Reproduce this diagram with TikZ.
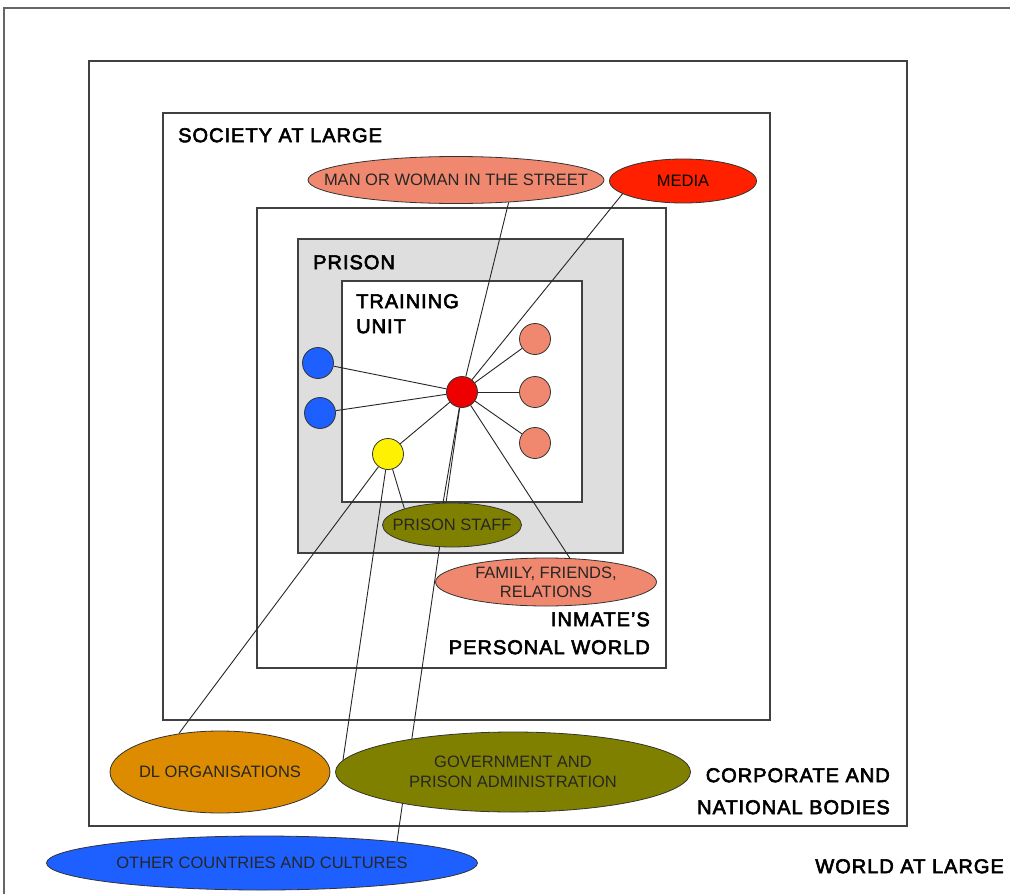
\documentclass[tikz,border=0pt]{standalone}
\usepackage{fontspec}
\setmainfont{Liberation Sans}
\newfontfamily\headfont[LetterSpace=5, FakeBold=3]{Liberation Sans}
\usetikzlibrary{shapes.geometric}

\definecolor{salmon}{RGB}{240,136,112}
\definecolor{mediared}{RGB}{255,32,0}
\definecolor{hubred}{RGB}{238,0,0}
\definecolor{inkblue}{RGB}{30,96,255}
\definecolor{staffolive}{RGB}{128,128,0}
\definecolor{amber}{RGB}{221,140,0}
\definecolor{prisongray}{RGB}{222,222,222}

\pgfdeclarelayer{edges}
\pgfsetlayers{edges,main}

\begin{document}
\begin{tikzpicture}[
        x=1pt, y=-1pt,
        frame/.style={draw=black!75, line width=1.1pt},
        heading/.style={inner sep=0pt, align=left, font=\headfont\fontsize{20}{24}\selectfont},
        oval/.style={draw=black!80, ellipse, inner sep=0pt, line width=0.8pt},
        blob/.style={draw=black!80, circle, minimum size=31pt, inner sep=0pt, line width=0.8pt},
        link/.style={draw=black!85, line width=0.9pt},
        caption/.style={inner sep=0pt, align=center, text=black!85, font=\fontsize{16.5}{19}\selectfont},
    ]
        \useasboundingbox (0,0) rectangle (1010,894);

        % nested worlds
        \begin{pgfonlayer}{edges}
            \draw[frame, draw=black!60] (4,894) -- (4,8) -- (1010,8);
            \draw[frame] (89,61) rectangle (907,826);
            \draw[frame] (163,113) rectangle (770,720);
            \draw[frame] (257,208) rectangle (666,668);
            \draw[frame, fill=prisongray] (298,239) rectangle (623,553);
            \draw[frame, fill=white] (342,281) rectangle (582,502);
        \end{pgfonlayer}

        \node[heading, anchor=north west] (society) at (178,128) {SOCIETY AT LARGE};
        \node[heading, anchor=north west] (prison) at (313,255) {PRISON};
        \node[heading, anchor=north west, font=\headfont\fontsize{20}{25}\selectfont] (unit) at (356,294) {TRAINING\\UNIT};
        \node[heading, anchor=north east, align=right, font=\headfont\fontsize{20}{28}\selectfont] (inmate) at (650,612) {INMATE’S\\PERSONAL WORLD};
        \node[heading, anchor=north east, align=right, font=\headfont\fontsize{20}{32}\selectfont] (corporate) at (890,768) {CORPORATE AND\\NATIONAL BODIES};
        \node[heading, anchor=north east] (world) at (1004,859) {WORLD AT LARGE};

        % people
        \node[blob, fill=inkblue] (blueA) at (318,363) {};
        \node[blob, fill=inkblue] (blueB) at (320,413) {};
        \node[blob, fill=hubred] (hub) at (462,392) {};
        \node[blob, fill=salmon] (pinkA) at (535,339) {};
        \node[blob, fill=salmon] (pinkB) at (535,392) {};
        \node[blob, fill=salmon] (pinkC) at (535,443) {};
        \node[blob, fill=yellow] (tutor) at (388,454) {};

        % groups
        \node[oval, fill=salmon, minimum width=296pt, minimum height=47pt,
            label={[caption]center:MAN OR WOMAN IN THE STREET}] (street) at (456,180) {};
        \node[oval, fill=mediared, minimum width=147pt, minimum height=44pt,
            label={[caption, text=black]center:MEDIA}] (media) at (683,181) {};
        \node[oval, fill=staffolive, minimum width=139pt, minimum height=44pt,
            label={[caption]center:PRISON STAFF}] (staff) at (452,525) {};
        \node[oval, fill=salmon, minimum width=221pt, minimum height=48pt,
            label={[caption]center:{FAMILY, FRIENDS,\\RELATIONS}}] (family) at (546,582) {};
        \node[oval, fill=amber, minimum width=220pt, minimum height=82pt,
            label={[caption]center:DL ORGANISATIONS}] (dlorg) at (220,772) {};
        \node[oval, fill=staffolive, minimum width=355pt, minimum height=80pt,
            label={[caption, font=\fontsize{16.5}{20}\selectfont]center:{GOVERNMENT AND\\PRISON ADMINISTRATION}}] (govt) at (513,772) {};
        \node[oval, fill=inkblue, minimum width=431pt, minimum height=54pt,
            label={[caption]center:OTHER COUNTRIES AND CULTURES}] (abroad) at (262,863) {};

        % links
        \begin{pgfonlayer}{edges}
            \draw[link] (hub) -- (blueA);
            \draw[link] (hub) -- (blueB);
            \draw[link] (hub) -- (pinkA);
            \draw[link] (hub) -- (pinkB);
            \draw[link] (hub) -- (pinkC);
            \draw[link] (hub) -- (tutor);
            \draw[link] (hub) -- (street.337);
            \draw[link] (hub) -- (media.192);
            \draw[link] (hub) -- (staff.112);
            \draw[link] (hub) -- (family.45);
            \draw[link] (hub) -- (abroad.9);
            \draw[link] (tutor) -- (staff.161);
            \draw[link] (tutor) -- (dlorg.137);
            \draw[link] (tutor) -- (govt.176);
        \end{pgfonlayer}
    \end{tikzpicture}
\end{document}
